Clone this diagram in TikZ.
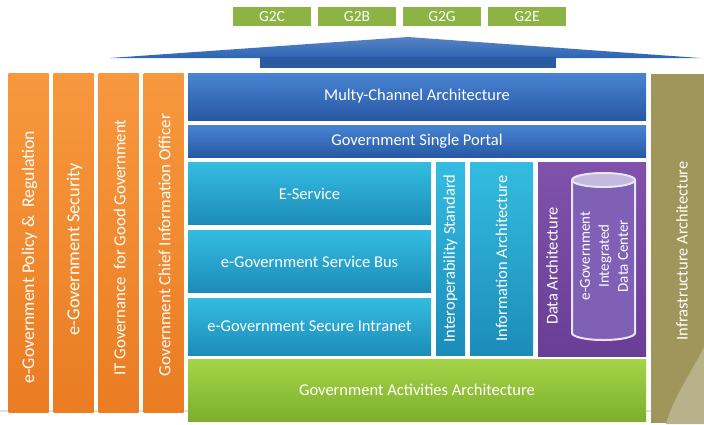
\documentclass[tikz,border=0pt]{standalone}
\usepackage{fontspec}
\setmainfont{Carlito}
\usetikzlibrary{positioning}
\definecolor{orangetop}{RGB}{247,152,62}
\definecolor{orangebot}{RGB}{234,124,34}
\definecolor{bluetop}{RGB}{72,132,210}
\definecolor{bluebot}{RGB}{40,88,165}
\definecolor{cyantop}{RGB}{52,188,225}
\definecolor{cyanbot}{RGB}{28,140,185}
\definecolor{purpletop}{RGB}{128,82,172}
\definecolor{purplebot}{RGB}{104,62,150}
\definecolor{greentop}{RGB}{165,212,72}
\definecolor{greenbot}{RGB}{125,175,45}
\definecolor{servgreen}{RGB}{140,180,68}
\definecolor{khaki}{RGB}{160,149,90}
\definecolor{khakilight}{RGB}{184,178,138}
\definecolor{roofblue}{RGB}{45,100,180}
\definecolor{cylfill}{RGB}{128,95,182}
\definecolor{cyltop}{RGB}{195,185,222}
\definecolor{cylline}{RGB}{235,228,245}
\newcommand{\midfont}{\fontsize{16.5}{18}\selectfont}
\newcommand{\dcfont}{\fontsize{15}{19}\selectfont}
\tikzset{
  hbox/.style={rectangle, inner sep=0pt, text=white, font=\midfont, align=center},
  vbox/.style={hbox, rotate=90},
  gbox/.style={hbox, fill=servgreen, minimum width=78, minimum height=19, font=\fontsize{15.5}{17}\selectfont},
  bluebox/.style={hbox, top color=bluetop, bottom color=bluebot, minimum width=458},
  cyanbox/.style={hbox, top color=cyantop, bottom color=cyanbot},
  cyanvbox/.style={vbox, top color=cyantop, bottom color=cyanbot},
  pillar/.style={hbox, top color=orangetop, bottom color=orangebot, minimum width=40, minimum height=339},
  vtext/.style={text=white, inner sep=0pt, rotate=90, font=\midfont, align=center}
}

\begin{document}
\begin{tikzpicture}[x=1pt,y=-1pt]
  \useasboundingbox (0,0) rectangle (704,424);
  \draw[black!12, line width=1.5] (0,411) -- (704,411);
  % services on top
  \foreach \lbl [count=\i] in {G2C,G2B,G2G,G2E}
    \node[gbox] (g\i) at ({187+85*\i},16.5) {\lbl};
  % roof
  \shade[top color=roofblue!80!white, bottom color=roofblue] (110,58) -- (408,37) -- (700,58) -- cycle;
  \fill[roofblue!90!black] (260,57) rectangle (556,68);
  % pillars
  \foreach \txt/\ty/\fs [count=\i] in {e-Government Policy \&\ \ Regulation/257/17.8, e-Government Security/249/18.3, IT Governance\ \ for Good Government/247.5/16.8, Government Chief Information Officer/245/17} {
    \node[pillar] (p\i) at ({28.5+45*(\i-1)},242.5) {};
    \node[vtext, font=\fontsize{\fs}{19}\selectfont] (pt\i) at ({29.5+45*(\i-1)},\ty) {\txt};
  }
  % layers
  \node[bluebox, minimum height=47] (multy) at (417,96.5) {Multy-Channel Architecture};
  \node[bluebox, minimum height=32] (portal) at (417,141) {Government Single Portal};
  \node[cyanbox, minimum width=243, minimum height=62] (eserv) at (309.5,193.5) {E-Service};
  \node[cyanbox, minimum width=243, minimum height=62] (bus) at (309.5,261.5) {e-Government Service Bus};
  \node[cyanbox, minimum width=243, minimum height=57] (intranet) at (309.5,326.5) {e-Government Secure Intranet};
  \node[cyanvbox, minimum width=193, minimum height=29] (interop) at (450.5,258.5) {Interoperability Standard};
  \node[cyanvbox, minimum width=193, minimum height=63] (info) at (501.5,258.5) {Information Architecture};
  \node[hbox, top color=purpletop, bottom color=purplebot, minimum width=108, minimum height=194] (data) at (592,259) {};
  \node[vtext] (datatxt) at (552,266) {Data Architecture};
  % data center cylinder
  \draw[cylline, line width=2, fill=cylfill] (572,180) -- (572,333) arc[start angle=180, end angle=0, x radius=31.5, y radius=7] -- (635,180);
  \draw[cylline, line width=2, fill=cyltop] (603.5,180) ellipse[x radius=31.5, y radius=7];
  \node[vtext, font=\dcfont] (dctxt) at (604,256) {e-Government\\Integrated\\Data Center};
  \node[hbox, top color=greentop, bottom color=greenbot, minimum width=458, minimum height=62] (activ) at (417,390) {Government Activities Architecture};
  % infrastructure
  \node[hbox, fill=khaki, minimum width=62, minimum height=349] (infra) at (682,248) {};
  \begin{scope}
    \clip (651,73) rectangle (704,424);
    \fill[khakilight] (666,424) .. controls (673,398) and (690,375) .. (704,347) -- (704,424) -- cycle;
  \end{scope}
  \node[vtext] (infratxt) at (682,251) {Infrastructure Architecture};
\end{tikzpicture}
\end{document}
